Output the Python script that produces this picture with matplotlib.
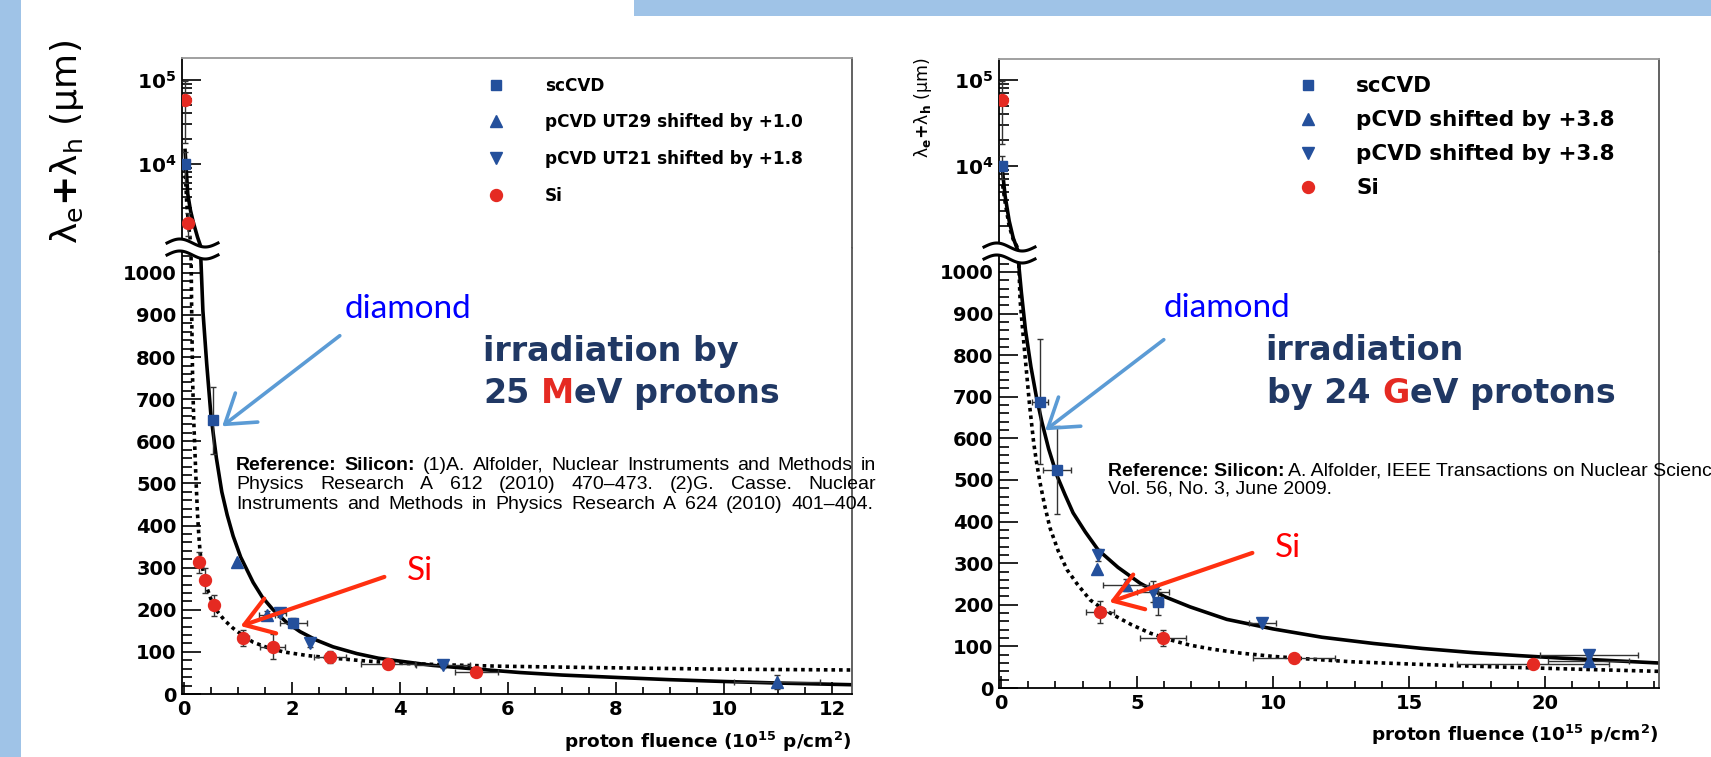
import numpy as np
import matplotlib.pyplot as plt
from matplotlib.patches import Rectangle, Polygon, FancyArrowPatch
from matplotlib.lines import Line2D
from matplotlib.ticker import MultipleLocator, FixedLocator, FixedFormatter, LogLocator, NullFormatter

W, H = 1711, 757

plt.rcParams['font.family'] = ['DejaVu Sans']
plt.rcParams['mathtext.fontset'] = 'dejavusans'

BLUE = '#24509c'
RED = '#e52a22'
NAVY = '#203864'
STRIP = '#9fc3e7'

# ---------------- 25 MeV protons (left) ----------------
mev_sc_x = [0.02, 0.54, 2.02]
mev_sc_y = [10000, 650, 168]
mev_sc_xe = [0, 0, 0.25]
mev_sc_ye = [4000, 80, 12]

mev_ut29_x = [0.98, 1.53, 10.98]
mev_ut29_y = [313, 187, 28]
mev_ut29_xe = [0, 0.15, 0.8]
mev_ut29_ye = [0, 10, 17]

mev_ut21_x = [1.78, 2.33, 4.80]
mev_ut21_y = [192, 121, 69]
mev_ut21_xe = [0.1, 0, 0.5]
mev_ut21_ye = [8, 10, 8]

mev_si_x = [0.02, 0.07, 0.28, 0.39, 0.55, 1.10, 1.64, 2.70, 3.78, 5.41]
mev_si_y = [58000, 2000, 313, 270, 211, 133, 112, 88, 71, 52]
mev_si_xe = [0, 0, 0.03, 0.04, 0.05, 0.1, 0.23, 0.3, 0.5, 0.4]
mev_si_ye = [40000, 600, 25, 30, 25, 18, 30, 14, 8, 6]

# fit curves
mev_fit_dia_x = [0.02, 0.07, 0.12, 0.17, 0.25, 0.31, 0.35, 0.42, 0.50, 0.60, 0.70,
                 0.80, 0.91, 1.05, 1.28, 1.45, 1.65, 1.90, 2.15, 2.45, 2.76, 3.20,
                 3.60, 4.00, 4.60, 5.24, 6.22, 7.00, 8.07, 9.00, 9.93, 11.0, 12.37]
mev_fit_dia_y = [14500, 4400, 2800, 2050, 1350, 1040, 910, 785, 660, 560, 480,
                 425, 375, 325, 265, 230, 200, 170, 148, 128, 112, 96,
                 85, 78, 68, 61, 51, 45, 39, 34, 30, 26, 22]

mev_fit_si_x = [0.02, 0.05, 0.08, 0.11, 0.13, 0.145, 0.16, 0.18, 0.20, 0.225, 0.25,
                0.275, 0.30, 0.35, 0.42, 0.50, 0.60, 0.75, 0.91, 1.10, 1.28, 1.55,
                1.84, 2.30, 2.77, 3.40, 4.00, 4.90, 5.85, 7.46, 9.93, 12.37]
mev_fit_si_y = [9000, 3500, 2000, 1350, 1050, 880, 744, 650, 585, 500, 428,
                375, 334, 295, 254, 225, 199, 175, 156, 138, 123, 110,
                100, 91, 85, 78, 73, 69, 66, 63, 59, 57]

# ---------------- 24 GeV protons (right) ----------------
gev_sc_x = [0.04, 1.43, 2.06, 5.77]
gev_sc_y = [10000, 688, 524, 207]
gev_sc_xe = [0, 0.3, 0.5, 0.2]
gev_sc_ye = [3000, 150, 105, 32]

gev_up_x = [3.53, 4.6, 21.6]
gev_up_y = [286, 248, 66]
gev_up_xe = [0, 0.85, 1.5]
gev_up_ye = [0, 15, 8]

gev_dn_x = [3.57, 5.59, 9.6, 21.6]
gev_dn_y = [320, 231, 156, 79]
gev_dn_xe = [0, 0.6, 0.5, 1.8]
gev_dn_ye = [15, 25, 10, 8]

gev_si_x = [0.04, 3.64, 5.96, 10.77, 19.56]
gev_si_y = [58000, 183, 120, 72, 58]
gev_si_xe = [0, 0.5, 0.85, 1.5, 2.8]
gev_si_ye = [40000, 26, 20, 6, 6]

gev_fit_dia_x = [0.05, 0.15, 0.3, 0.45, 0.62, 0.75, 0.90, 1.10, 1.30, 1.50, 1.75,
                 2.06, 2.35, 2.65, 3.10, 3.57, 4.30, 5.11, 6.00, 6.95, 8.30, 10.0,
                 11.8, 13.7, 15.5, 17.35, 19.0, 20.55, 22.4, 24.2]
gev_fit_dia_y = [9000, 4500, 2300, 1450, 1040, 950, 860, 772, 700, 640, 575,
                 510, 465, 421, 375, 332, 290, 252, 220, 195, 165, 142,
                 122, 107, 95, 85, 78, 72, 66, 60]

gev_fit_si_x = [0.06, 0.15, 0.3, 0.45, 0.59, 0.70, 0.81, 0.92, 1.05, 1.20, 1.30,
                1.43, 1.60, 1.80, 2.10, 2.43, 2.80, 3.27, 3.70, 4.26, 4.80, 5.48,
                6.20, 6.95, 7.80, 8.79, 10.0, 11.25, 12.9, 14.9, 16.6, 18.6, 21.3, 24.2]
gev_fit_si_y = [6000, 3800, 2000, 1400, 1150, 933, 850, 772, 680, 590, 545,
                495, 440, 385, 330, 284, 250, 212, 192, 171, 152, 132,
                116, 103, 93, 84, 76, 70, 63, 58, 54, 50, 45, 40]

fig = plt.figure(figsize=(W / 100, H / 100), dpi=100)
fig.patch.set_facecolor('white')


def fx(x):
    return x / W


def fy(y):
    return 1 - y / H


# slide decoration
fig.add_artist(Rectangle((0, 0), fx(21), 1, transform=fig.transFigure,
                         color=STRIP, lw=0, zorder=0))
fig.add_artist(Rectangle((fx(634), fy(16)), 1, 16 / H, transform=fig.transFigure,
                         color=STRIP, lw=0, zorder=0))


def bold_labels(ax):
    for t in ax.get_xticklabels() + ax.get_yticklabels():
        t.set_fontweight('bold')


def panel(px0, px1, py_top, py_brk, py_bot, xlim, lin_top, log_top,
          xmaj, xmin_, series, fits):
    top = fig.add_axes([fx(px0), fy(py_brk), (px1 - px0) / W, (py_brk - py_top) / H])
    bot = fig.add_axes([fx(px0), fy(py_bot), (px1 - px0) / W, (py_bot - py_brk) / H])

    handles = []
    for ax in (top, bot):
        for (fxs, fys, ls) in fits:
            ax.plot(fxs, fys, color='black', lw=2.6, ls=ls, zorder=2)
        hs = []
        for (sx, sy, sxe, sye, mk, ms, col) in series:
            ax.errorbar(sx, sy, xerr=sxe, yerr=sye, fmt='none', ecolor='#333333',
                        elinewidth=1, capsize=2.5, zorder=3)
            h, = ax.plot(sx, sy, ls='none', marker=mk, ms=ms, color=col,
                         mec=col, zorder=4)
            hs.append(h)
        handles = hs
        ax.set_xlim(*xlim)

    top.set_yscale('log')
    top.set_ylim(1000, log_top)
    top.yaxis.set_major_locator(FixedLocator([1e4, 1e5]))
    top.yaxis.set_major_formatter(FixedFormatter([r'$\mathbf{10^{4}}$', r'$\mathbf{10^{5}}$']))
    top.yaxis.set_minor_locator(LogLocator(base=10, subs=np.arange(2, 10)))
    top.yaxis.set_minor_formatter(NullFormatter())
    top.tick_params(axis='x', which='both', bottom=False, labelbottom=False)
    top.tick_params(axis='y', which='both', direction='in', right=False, pad=4,
                    labelsize=14.5, width=1.2)
    top.tick_params(axis='y', which='major', length=14)
    top.tick_params(axis='y', which='minor', length=7)
    top.spines['bottom'].set_visible(False)
    top.spines['top'].set_color('#999999')
    top.spines['right'].set_color('#555555')
    for s in top.spines.values():
        s.set_linewidth(1.3)

    bot.set_ylim(0, lin_top)
    bot.xaxis.set_major_locator(MultipleLocator(xmaj))
    bot.xaxis.set_minor_locator(MultipleLocator(xmin_))
    bot.yaxis.set_major_locator(MultipleLocator(100))
    bot.yaxis.set_minor_locator(MultipleLocator(20))
    bot.tick_params(axis='both', which='both', direction='in', top=False, right=False,
                    labelsize=14, width=1.2)
    bot.tick_params(axis='y', which='major', length=14, pad=4)
    bot.tick_params(axis='y', which='minor', length=7)
    bot.tick_params(axis='x', which='major', length=9, pad=4)
    bot.tick_params(axis='x', which='minor', length=5)
    bot.spines['top'].set_visible(False)
    bot.spines['right'].set_color('#555555')
    for s in bot.spines.values():
        s.set_linewidth(1.3)
    bold_labels(top)
    bold_labels(bot)

    # axis break symbol on the y axis
    t = np.linspace(0, 1, 60)
    wx = px0 - 15 + 51 * t
    up = py_brk - 5 - 4 * np.sin(2 * np.pi * t)
    lo = py_brk + 7 - 4 * np.sin(2 * np.pi * t)
    poly = np.column_stack([np.r_[wx, wx[::-1]], np.r_[up, lo[::-1]]])
    fig.add_artist(Polygon(np.column_stack([fx(poly[:, 0]), fy(poly[:, 1])]),
                           closed=True, transform=fig.transFigure, color='white',
                           lw=0, zorder=5))
    for wy in (up, lo):
        fig.add_artist(Line2D(fx(wx), fy(wy), transform=fig.transFigure,
                              color='black', lw=2.2, zorder=6))
    return top, bot, handles


left_series = [
    (mev_sc_x, mev_sc_y, mev_sc_xe, mev_sc_ye, 's', 7.2, BLUE),
    (mev_ut29_x, mev_ut29_y, mev_ut29_xe, mev_ut29_ye, '^', 8.5, BLUE),
    (mev_ut21_x, mev_ut21_y, mev_ut21_xe, mev_ut21_ye, 'v', 8.5, BLUE),
    (mev_si_x, mev_si_y, mev_si_xe, mev_si_ye, 'o', 8.6, RED),
]
left_fits = [(mev_fit_dia_x, mev_fit_dia_y, '-'),
             (mev_fit_si_x, mev_fit_si_y, (0, (1, 1.1)))]
right_series = [
    (gev_sc_x, gev_sc_y, gev_sc_xe, gev_sc_ye, 's', 7.2, BLUE),
    (gev_up_x, gev_up_y, gev_up_xe, gev_up_ye, '^', 8.5, BLUE),
    (gev_dn_x, gev_dn_y, gev_dn_xe, gev_dn_ye, 'v', 8.5, BLUE),
    (gev_si_x, gev_si_y, gev_si_xe, gev_si_ye, 'o', 8.6, RED),
]
right_fits = [(gev_fit_dia_x, gev_fit_dia_y, '-'),
              (gev_fit_si_x, gev_fit_si_y, (0, (1, 1.1)))]

ltop, lbot, lh = panel(182, 852, 58, 248, 694, (-0.037, 12.37), 1059, 10 ** 5.262,
                       2, 0.5, left_series, left_fits)
rtop, rbot, rh = panel(999, 1659, 59, 252, 688, (-0.074, 24.19), 1048, 10 ** 5.244,
                       5, 1, right_series, right_fits)

# legends
fs_l = 12.2 * 100 / 72
ltop.legend(lh, ['scCVD', 'pCVD UT29 shifted by +1.0', 'pCVD UT21 shifted by +1.8', 'Si'],
            loc='upper left', bbox_to_anchor=(fx(496 - 0.75 * fs_l), fy(85 - 8.4)),
            bbox_transform=fig.transFigure, frameon=False, borderpad=0, borderaxespad=0,
            handlelength=1.5, handletextpad=2.13, labelspacing=1.1,
            prop={'size': 12.2, 'weight': 'bold'})
fs_r = 15.5 * 100 / 72
rtop.legend(rh, ['scCVD', 'pCVD shifted by +3.8', 'pCVD shifted by +3.8', 'Si'],
            loc='upper left', bbox_to_anchor=(fx(1308 - 0.75 * fs_r), fy(87 - 10.7)),
            bbox_transform=fig.transFigure, frameon=False, borderpad=0, borderaxespad=0,
            handlelength=1.5, handletextpad=1.49, labelspacing=0.65,
            prop={'size': 15.5, 'weight': 'bold'})

# axis titles
fig.text(fx(67), fy(142), r'λ$_\mathregular{e}$$\mathbf{+}$λ$_\mathregular{h}$ (μm)',
         rotation=90, ha='center', va='center', fontsize=26)
fig.text(fx(923), fy(108), r'λ$_\mathbf{e}$$\mathbf{+}$λ$_\mathbf{h}$ (μm)',
         rotation=90, ha='center', va='center', fontsize=12.5)
xt = r'proton fluence (10$^{\mathbf{15}}$ p/cm$^{\mathbf{2}}$)'
fig.text(fx(852), fy(742), xt, ha='right', va='center', fontsize=13.3, weight='bold')
fig.text(fx(1659), fy(735), xt, ha='right', va='center', fontsize=13.3, weight='bold')

renderer = fig.canvas.get_renderer()


def ink_width(s, size):
    t = fig.text(0, 0, s, fontsize=size, weight='bold')
    w = t.get_window_extent(renderer).width
    t.remove()
    return w


def colored_line(x, y, text, red_char, size):
    # navy text with one red letter, drawn piece by piece
    i = text.index(red_char)
    head, tail = text[:i], text[i + 1:]
    x_red = x + ink_width(text[:i + 1], size) - ink_width(red_char, size)
    x_tail = x + ink_width(text[:i + 2], size) - ink_width(text[i + 1], size)
    fig.text(fx(x), fy(y), head.rstrip(), color=NAVY, fontsize=size, weight='bold',
             va='baseline')
    fig.text(fx(x_red), fy(y), red_char, color=RED, fontsize=size, weight='bold',
             va='baseline')
    fig.text(fx(x_tail), fy(y), tail, color=NAVY, fontsize=size, weight='bold',
             va='baseline')


fig.text(fx(483), fy(361), 'irradiation by', color=NAVY, fontsize=24, weight='bold',
         va='baseline')
colored_line(483, 403, '25 MeV protons', 'M', 24)
fig.text(fx(1265), fy(360), 'irradiation', color=NAVY, fontsize=24, weight='bold',
         va='baseline')
colored_line(1267, 403, 'by 24 GeV protons', 'G', 24)

# callouts
for x, y in ((345, 318), (1164, 317)):
    fig.text(fx(x), fy(y), 'diamond', color='#0000ff', fontsize=24, family='Lato',
             va='baseline')
for x, y in ((407, 580), (1275, 557)):
    fig.text(fx(x), fy(y), 'Si', color='#ff0000', fontsize=24, family='Lato',
             va='baseline')


def arrow(x0, y0, x1, y1, color, lw):
    fig.add_artist(FancyArrowPatch((fx(x0), fy(y0)), (fx(x1), fy(y1)),
                                   transform=fig.transFigure,
                                   arrowstyle='->,head_length=0.9,head_width=0.6',
                                   mutation_scale=22, lw=lw, color=color, zorder=7,
                                   capstyle='round', joinstyle='round'))


arrow(342, 334, 220, 428, '#5b9bd5', 2.6)
arrow(1166, 338, 1043, 432, '#5b9bd5', 2.6)
arrow(387, 576, 238, 627, '#ff3010', 3.0)
arrow(1255, 552, 1107, 603, '#ff3010', 3.0)


# reference notes
def justify(words, x0, x1, y, size):
    arts = [fig.text(0, fy(y), w, fontsize=size, weight=wt, family='Liberation Sans',
                     va='baseline', zorder=8) for w, wt in words]
    widths = [a.get_window_extent(renderer).width for a in arts]
    gap = (x1 - x0 - sum(widths)) / (len(arts) - 1)
    x = x0
    for a, w in zip(arts, widths):
        a.set_x(fx(x))
        x += w + gap


def words(s, bold_n=0):
    ws = s.split(' ')
    return [(w, 'bold' if i < bold_n else 'normal') for i, w in enumerate(ws)]


justify(words('Reference: Silicon: (1)A. Alfolder, Nuclear Instruments and Methods in', 2),
        236, 876, 470, 14)
justify(words('Physics Research A 612 (2010) 470–473. (2)G. Casse. Nuclear'),
        236, 876, 489, 14)
justify(words('Instruments and Methods in Physics Research A 624 (2010) 401–404.'),
        236, 873, 509, 14)

t1 = fig.text(fx(1108), fy(476), 'Reference: Silicon:', fontsize=14, weight='bold',
              family='Liberation Sans', va='baseline')
w1 = t1.get_window_extent(renderer).width
fig.text(fx(1108 + w1 + 4), fy(476), 'A. Alfolder, IEEE Transactions on Nuclear Science,',
         fontsize=14, family='Liberation Sans', va='baseline')
fig.text(fx(1108), fy(494), 'Vol. 56, No. 3, June 2009.', fontsize=14,
         family='Liberation Sans', va='baseline')

fig.savefig('out.png', dpi=100)
